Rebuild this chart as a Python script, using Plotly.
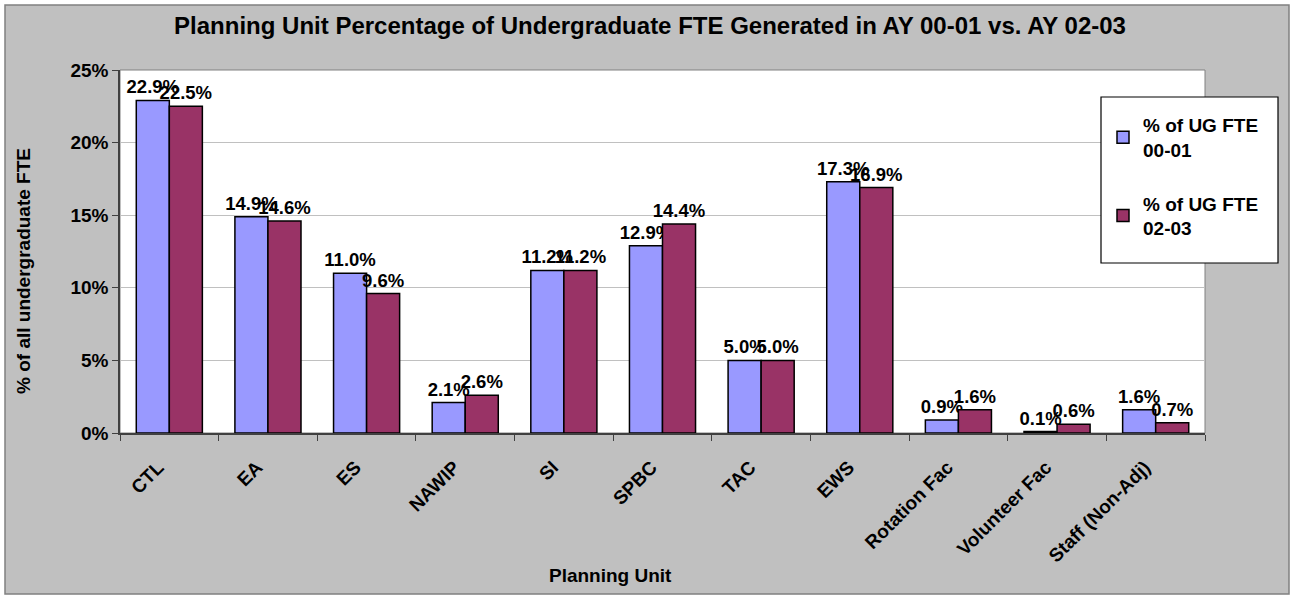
import plotly.graph_objects as go

categories = ["CTL", "EA", "ES", "NAWIP", "SI", "SPBC", "TAC", "EWS",
              "Rotation Fac", "Volunteer Fac", "Staff (Non-Adj)"]
ug_00_01 = [0.229, 0.149, 0.110, 0.021, 0.112, 0.129, 0.050, 0.173, 0.009, 0.001, 0.016]
ug_02_03 = [0.225, 0.146, 0.096, 0.026, 0.112, 0.144, 0.050, 0.169, 0.016, 0.006, 0.007]
series_names = ["% of UG FTE<br>00-01", "% of UG FTE<br>02-03"]
title_text = "Planning Unit Percentage of Undergraduate FTE Generated in AY 00-01 vs. AY 02-03"

FONT = "Arial, 'Liberation Sans', sans-serif"
W, H = 1294, 595
L, R, T, B = 120, 89, 70, 162
pw, ph = W - L - R, H - T - B

def px_x(p):
    return (p - L) / pw

def px_y(p):
    return (H - B - p) / ph

fig = go.Figure()
for name, vals, color, grp in [(series_names[0], ug_00_01, "#9999ff", "a"),
                               (series_names[1], ug_02_03, "#993366", "b")]:
    fig.add_trace(go.Bar(
        x=categories, y=vals, name=name, legendgroup=grp,
        marker=dict(color=color, line=dict(color="black", width=1.5)),
        texttemplate="<b>%{y:.1%}</b>", textposition="outside",
        textfont=dict(family=FONT, size=18.5, color="black"),
        constraintext="none", cliponaxis=False,
    ))

fig.update_layout(
    width=W, height=H,
    margin=dict(l=L, r=R, t=T, b=B),
    paper_bgcolor="white", plot_bgcolor="white",
    barmode="group", bargap=0.33, bargroupgap=0,
    font=dict(family=FONT, size=19, color="black"),
    title=dict(text="<b>" + title_text + "</b>", x=650 / W, xanchor="center",
               y=1 - 26 / H, yanchor="middle",
               font=dict(family=FONT, size=24, color="black")),
    showlegend=True,
    legend=dict(x=px_x(1103), y=px_y(106), xanchor="left", yanchor="top",
                bgcolor="rgba(0,0,0,0)", borderwidth=0,
                font=dict(family=FONT, size=19, color="black", weight="bold"),
                traceorder="grouped", tracegroupgap=26,
                itemwidth=30),
)

fig.update_yaxes(range=[0, 0.25], dtick=0.05, tickformat=".0%",
                 showgrid=True, gridcolor="#c0c0c0", gridwidth=1,
                 showline=True, linecolor="#404040", linewidth=1.5,
                 ticks="outside", ticklen=6, tickcolor="#404040",
                 tickfont=dict(family=FONT, size=19, color="black", weight="bold"),
                 zeroline=False, fixedrange=True)
fig.update_xaxes(tickangle=-45, tickson="boundaries",
                 showline=True, linecolor="#404040", linewidth=1.5,
                 ticks="outside", ticklen=6, tickcolor="#404040",
                 ticklabelstandoff=14, ticklabelshift=-11,
                 tickfont=dict(family=FONT, size=19, color="black", weight="bold"),
                 fixedrange=True)

# outer chart area (gray) with border
fig.add_shape(type="rect", xref="paper", yref="paper",
              x0=px_x(5), y0=px_y(594), x1=px_x(1289), y1=px_y(5),
              fillcolor="#c0c0c0", line=dict(color="#808080", width=1.5),
              layer="below")
# plot-area (white) with gray border
fig.add_shape(type="rect", xref="paper", yref="paper", x0=0, y0=0, x1=1, y1=1,
              fillcolor="white", line=dict(color="#808080", width=1), layer="below")
# legend box
fig.add_shape(type="rect", xref="paper", yref="paper",
              x0=px_x(1101), y0=px_y(263), x1=px_x(1278), y1=px_y(97),
              fillcolor="white", line=dict(color="black", width=1.2), layer="above")

fig.add_annotation(text="<b>% of all undergraduate FTE</b>", textangle=-90,
                   xref="paper", yref="paper", x=px_x(23), y=px_y(271),
                   xanchor="center", yanchor="middle", showarrow=False,
                   font=dict(family=FONT, size=19, color="black"))
fig.add_annotation(text="<b>Planning Unit</b>",
                   xref="paper", yref="paper", x=px_x(610), y=px_y(575),
                   xanchor="center", yanchor="middle", showarrow=False,
                   font=dict(family=FONT, size=19, color="black"))

fig.write_html("out.html", config={"displayModeBar": False},
               post_script="document.body.style.margin='0';")
